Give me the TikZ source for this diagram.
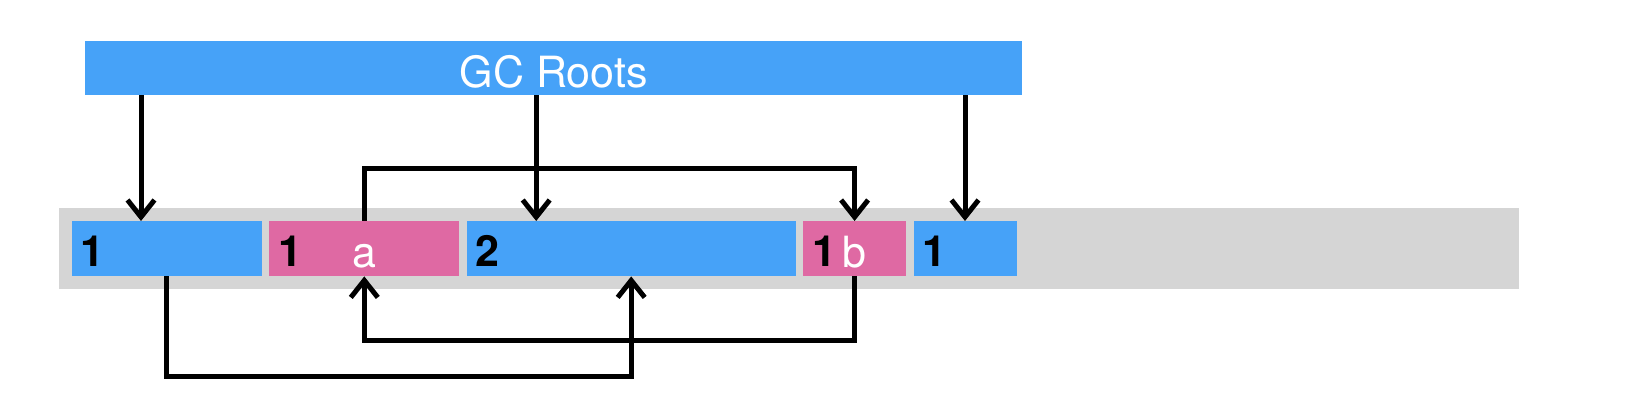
\documentclass[tikz,border=0pt]{standalone}
\usepackage{fontspec}
\setmainfont{TeX Gyre Heros}
\usetikzlibrary{arrows.meta, positioning}

\definecolor{objblue}{RGB}{70,162,248}
\definecolor{objpink}{RGB}{223,105,163}
\definecolor{heapgray}{RGB}{213,213,213}

\begin{document}
\begin{tikzpicture}[
						x=1pt, y=-1pt,
						node distance={7pt},
						band/.style = {fill=heapgray, inner sep=0pt, anchor=north west},
						bobj/.style = {fill=objblue, inner sep=0pt, minimum height=55pt, anchor=north west},
						pobj/.style = {fill=objpink, inner sep=0pt, minimum height=55pt, anchor=north west},
						num/.style = {font=\fontsize{43}{43}\selectfont\bfseries, inner sep=0pt, anchor=base west},
						lbl/.style = {text=white, font=\fontsize{43}{43}\selectfont, inner sep=0pt, anchor=base},
						link/.style = {draw, line width=5pt, -{Straight Barb[length=17pt,width=27pt]}}
					]
\useasboundingbox (0,0) rectangle (1644,406);

% heap and roots
\node[band, minimum width=1460pt, minimum height=80.7pt] (heap) at (58.3,208.3) {};
\node[bobj, minimum width=936.7pt, minimum height=54.3pt] (roots) at (85,40.7) {};
\node[lbl] (rtext) at ([yshift=8.3pt]roots.south) {GC Roots};

% objects
\node[bobj, minimum width=190pt] (A) at (71.7,221) {};
\node[pobj, minimum width=190pt] (B) [right=of A] {};
\node[bobj, minimum width=329pt] (C) [right=of B] {};
\node[pobj, minimum width=103pt] (D) [right=of C] {};
\node[bobj, minimum width=103pt] (E) [right=of D] {};

\node[num] (nA) at ([xshift=9pt,yshift=10pt]A.south west) {1};
\node[num] (nB) at ([xshift=9pt,yshift=10pt]B.south west) {1};
\node[num] (nC) at ([xshift=9pt,yshift=10pt]C.south west) {2};
\node[num] (nD) at ([xshift=9pt,yshift=10pt]D.south west) {1};
\node[num] (nE) at ([xshift=9pt,yshift=10pt]E.south west) {1};
\node[lbl] (la) at ([yshift=8.5pt]B.south) {a};
\node[lbl] (lb) at ([yshift=9pt]D.south) {b};

\coordinate (t1) at ([xshift=69.3pt]A.north west);
\coordinate (t2) at ([xshift=69.7pt]C.north west);

\draw[link] (roots.south -| t1) -- (t1);
\draw[link] (roots.south -| t2) -- (t2);
\draw[link] (roots.south -| E.north) -- (E.north);
\draw[link] (B.north) -- ++(0,-52.7) -| (D.north);
\draw[link] (D.south) -- ++(0,64) -| (B.south);
\draw[link] (A.south) -- ++(0,100) -| (C.south);
\end{tikzpicture}
\end{document}
